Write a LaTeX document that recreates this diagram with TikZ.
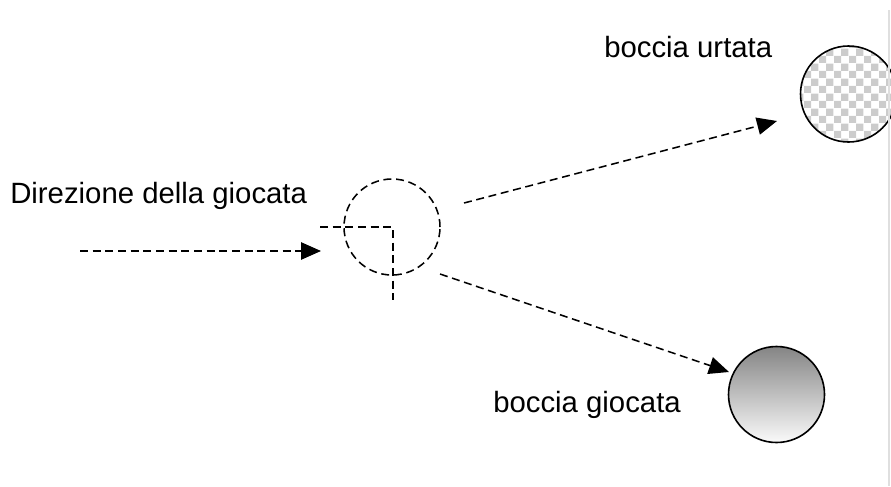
\documentclass[tikz,border=0pt]{standalone}
\usepackage{fontspec}
\setmainfont{Liberation Sans}
\usetikzlibrary{arrows.meta,patterns}

\tikzset{
  ball/.style={circle, draw, line width=1.2pt, minimum size=72pt, inner sep=0pt},
  traj/.style={dashed, dash pattern=on 6pt off 3.5pt, line width=1.15pt},
  label/.style={anchor=base west, inner sep=0pt, font=\fontsize{22}{26}\selectfont}
}

\begin{document}
\begin{tikzpicture}[x=0.75pt, y=-0.75pt, >={Triangle[length=15pt, width=13pt]}]
\useasboundingbox (0,0) rectangle (891,486);
\clip (0,0) rectangle (891,486);

% palle
\node[ball, traj, draw] (urto) at (392,227) {};
\node[ball, pattern=checkerboard, pattern color=gray!40] (urtata) at (848.5,94) {};
\node[ball, top color=black!48, bottom color=black!2] (giocata) at (776.5,394.5) {};

% scritte
\node[label] (dir) at (10,203) {Direzione della giocata};
\node[label] (lurtata) at (604,57) {boccia urtata};
\node[label] (lgiocata) at (493,412) {boccia giocata};

% angolo
\coordinate (h1) at (320,227);
\coordinate (cc) at (393,227);
\coordinate (v1) at (393,300);
\draw[traj] (h1)--(cc)--(v1);

% frecce
\coordinate (a0) at (80,251);
\coordinate (a1) at (321,251);
\coordinate (b0) at (464,203);
\coordinate (b1) at (777,121);
\coordinate (c0) at (440,274);
\coordinate (c1) at (729,372);
\draw[traj, ->] (a0)--(a1);
\draw[traj, ->] (b0)--(b1);
\draw[traj, ->] (c0)--(c1);

% bordo
\coordinate (e0) at (889,10);
\coordinate (e1) at (889,486);
\draw[gray!25, line width=1pt] (e0)--(e1);

\end{tikzpicture}
\end{document}
